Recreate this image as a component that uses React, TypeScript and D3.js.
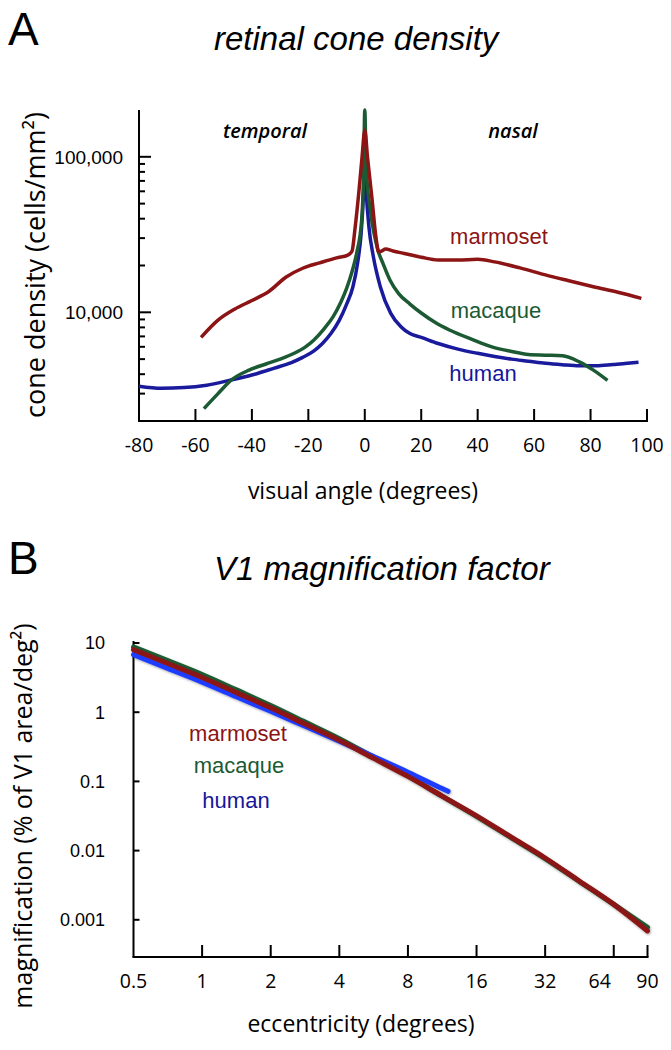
import React from "react";
import * as d3 from "d3";

// ---------- Panel A data: retinal cone density (cells/mm²) vs visual angle (deg) ----------
const marmosetA: [number, number][] = [
  [-58, 6900], [-52, 8900], [-46, 10500], [-40, 11900], [-34, 13600], [-28, 16800],
  [-22, 19200], [-16, 20800], [-10, 22400], [-6, 23300], [-4.5, 24800], [-3.5, 34000],
  [-2, 62000], [-1, 98000], [0, 148000], [1, 98000], [2.5, 55000], [4, 30000],
  [4.9, 24500], [5.8, 24700], [7.4, 25500], [10, 24800], [14, 23900], [20, 22600],
  [26, 21700], [33, 21700], [40, 21900], [46, 21100], [55, 19300], [64, 17400],
  [72, 16000], [81, 14600], [90, 13400], [98, 12300],
];
const macaqueA: [number, number][] = [
  [-57, 2400], [-52, 3000], [-47, 3700], [-41, 4250], [-35, 4650], [-30, 5000],
  [-25, 5450], [-21, 6000], [-18, 6640], [-14.5, 7800], [-11.2, 9370], [-8.5, 11600],
  [-6.4, 14300], [-4.5, 18300], [-2.9, 23900], [-1.1, 39200], [-0.4, 80000], [0, 200000],
  [0.5, 85000], [2, 45000], [4.7, 25000], [6.5, 20500], [9, 16000], [12, 13200],
  [16, 11300], [20, 9900], [25, 8600], [30, 7700], [38, 6700], [45, 6000], [52, 5600],
  [58, 5350], [64, 5300], [70, 5250], [76, 4800], [81, 4250], [86, 3650],
];
const humanA: [number, number][] = [
  [-80, 3350], [-72, 3250], [-64, 3280], [-56, 3400], [-48, 3650], [-40, 3950],
  [-32, 4380], [-26, 4750], [-22, 5130], [-18, 5650], [-15, 6300], [-12, 7300],
  [-9, 8900], [-6.5, 11200], [-4.2, 14600], [-2.5, 21000], [-1.3, 32000], [-0.5, 55000],
  [0, 95000], [0.5, 60000], [1.5, 35000], [3, 23000], [5.5, 14600], [9.2, 9850],
  [12.8, 8080], [16, 7300], [20, 6900], [26, 6300], [33, 5800], [40, 5450], [46, 5200],
  [52, 5000], [58, 4850], [64, 4700], [70, 4600], [76, 4530], [82, 4530], [88, 4620],
  [93, 4700], [97, 4780],
];
const xTicksA = [-80, -60, -40, -20, 0, 20, 40, 60, 80, 100];
const yMajorTicksA = [10000, 100000];
const yMajorLabelsA = ["10,000", "100,000"];

// ---------- Panel B data: V1 magnification (% of V1 area/deg²) vs eccentricity (deg) ----------
const marmosetB: [number, number][] = [
  [0.5, 8.0], [0.707, 5.05], [1, 3.18], [1.414, 1.92], [2, 1.156], [2.83, 0.673],
  [4, 0.392], [5.66, 0.215], [8, 0.118], [11.3, 0.0614], [16, 0.0318], [22.6, 0.0158],
  [32, 0.00782], [45.3, 0.00361], [64, 0.00167], [90, 0.00069],
];
const macaqueB: [number, number][] = [
  [0.5, 8.75], [0.707, 5.56], [1, 3.51], [1.414, 2.1], [2, 1.25], [2.83, 0.72],
  [4, 0.415], [5.66, 0.223], [8, 0.12], [11.3, 0.0611], [16, 0.0313], [22.6, 0.0155],
  [32, 0.00767], [45.3, 0.00357], [64, 0.00167], [90, 0.000776],
];
const humanB: [number, number][] = [
  [0.5, 6.8], [0.707, 4.29], [1, 2.71], [1.414, 1.67], [2, 1.03], [2.83, 0.627],
  [4, 0.382], [5.66, 0.228], [8, 0.136], [11.3, 0.0789], [12, 0.0719],
];
const xTicksB = [0.5, 1, 2, 4, 8, 16, 32, 64, 90];
const yTicksB = [10, 1, 0.1, 0.01, 0.001];
const yLabelsB = ["10", "1", "0.1", "0.01", "0.001"];

const COL_MARMOSET = "#8c1414";
const COL_MACAQUE = "#1c5a33";
const COL_HUMAN_A = "#1a1a9c";
const COL_HUMAN_B = "#1f3cff";
const COL_HUMAN_LABEL = "#16169a";

const FONT_H = "'Liberation Sans', Arial, Helvetica, sans-serif";
const FONT_C = "'Open Sans', 'Noto Sans', sans-serif";

export default function App() {
  // Scales panel A
  const xA = d3.scaleLinear().domain([-80, 100]).range([139, 647]);
  const yA = d3.scaleLog().domain([2000, 200000]).range([421, 110]);
  const lineA = d3
    .line<[number, number]>()
    .x((d) => xA(d[0]))
    .y((d) => yA(d[1]))
    .curve(d3.curveMonotoneX);
  const yMinorA = yA
    .ticks()
    .filter((t) => !yMajorTicksA.includes(t) && t > 2000 && t < 200000);

  // Scales panel B
  const xB = d3.scaleLog().base(2).domain([0.5, 90]).range([133.5, 647.5]);
  const yB = d3.scaleLog().domain([0.00029, 10]).range([957, 643]);
  const lineB = d3
    .line<[number, number]>()
    .x((d) => xB(d[0]))
    .y((d) => yB(d[1]))
    .curve(d3.curveMonotoneX);

  const axisStroke = { stroke: "#000", strokeWidth: 2, fill: "none" } as const;

  return (
    <svg
      width={671}
      height={1050}
      viewBox="0 0 671 1050"
      style={{ position: "absolute", left: 0, top: 0, background: "#fff" }}
    >
      <defs>
        <filter id="shadow" x="-10%" y="-10%" width="120%" height="120%">
          <feDropShadow dx="0.8" dy="1.2" stdDeviation="1.2" floodColor="#000" floodOpacity="0.35" />
        </filter>
      </defs>

      {/* ================= Panel A ================= */}
      <text x={8} y={45} fontFamily={FONT_H} fontSize={46}>A</text>
      <text x={214} y={50} fontFamily={FONT_H} fontSize={33} fontStyle="italic">
        retinal cone density
      </text>

      {/* axes */}
      <line x1={xA(-80)} x2={xA(-80)} y1={110} y2={421} {...axisStroke} />
      <line x1={xA(-80) - 1} x2={xA(100) + 1} y1={421} y2={421} {...axisStroke} />
      {xTicksA.slice(1).map((t) => (
        <line key={"xta" + t} x1={xA(t)} x2={xA(t)} y1={421} y2={409} {...axisStroke} />
      ))}
      {xTicksA.map((t) => (
        <text key={"xla" + t} x={xA(t)} y={452} textAnchor="middle" fontFamily={FONT_C} fontSize={19.5} fontWeight={500}>
          {t}
        </text>
      ))}
      {yMajorTicksA.map((t, i) => (
        <g key={"yta" + t}>
          <line x1={xA(-80)} x2={xA(-80) + 12} y1={yA(t)} y2={yA(t)} {...axisStroke} />
          <text x={123} y={yA(t)} dy="0.36em" textAnchor="end" fontFamily={FONT_H} fontSize={19}>
            {yMajorLabelsA[i]}
          </text>
        </g>
      ))}
      {yMinorA.map((t) => (
        <line key={"ymia" + t} x1={xA(-80)} x2={xA(-80) + 6} y1={yA(t)} y2={yA(t)} {...axisStroke} />
      ))}

      <text x={265} y={138} textAnchor="middle" fontFamily={FONT_C} fontSize={20} fontStyle="italic" fontWeight={600}>
        temporal
      </text>
      <text x={513} y={138} textAnchor="middle" fontFamily={FONT_C} fontSize={20} fontStyle="italic" fontWeight={600}>
        nasal
      </text>

      {/* curves */}
      <path d={lineA(humanA) ?? ""} fill="none" stroke={COL_HUMAN_A} strokeWidth={3.5} strokeLinejoin="round" />
      <path d={lineA(macaqueA) ?? ""} fill="none" stroke={COL_MACAQUE} strokeWidth={3.5} strokeLinejoin="round" />
      <path d={lineA(marmosetA) ?? ""} fill="none" stroke={COL_MARMOSET} strokeWidth={3.5} strokeLinejoin="round" />

      <text x={499} y={244} textAnchor="middle" fontFamily={FONT_H} fontSize={22} fill={COL_MARMOSET}>marmoset</text>
      <text x={496} y={318} textAnchor="middle" fontFamily={FONT_H} fontSize={22} fill={COL_MACAQUE}>macaque</text>
      <text x={483} y={381} textAnchor="middle" fontFamily={FONT_H} fontSize={22} fill={COL_HUMAN_LABEL}>human</text>

      <text x={363} y={499} textAnchor="middle" fontFamily={FONT_C} fontSize={23}>
        visual angle (degrees)
      </text>
      <text
        transform="translate(45,265) rotate(-90)"
        textAnchor="middle"
        fontFamily={FONT_C}
        fontSize={27}
      >
        cone density (cells/mm²)
      </text>

      {/* ================= Panel B ================= */}
      <text x={8} y={574} fontFamily={FONT_H} fontSize={46}>B</text>
      <text x={214} y={580} fontFamily={FONT_H} fontSize={33} fontStyle="italic">
        V1 magnification factor
      </text>

      <line x1={xB(0.5)} x2={xB(0.5)} y1={641} y2={957} {...axisStroke} />
      <line x1={xB(0.5) - 1} x2={xB(90) + 1} y1={957} y2={957} {...axisStroke} />
      {xTicksB.slice(1).map((t) => (
        <line key={"xtb" + t} x1={xB(t)} x2={xB(t)} y1={957} y2={945} {...axisStroke} />
      ))}
      {xTicksB.map((t) => (
        <text
          key={"xlb" + t}
          x={xB(t) + (t === 64 ? -14 : 0)}
          y={988}
          textAnchor="middle"
          fontFamily={FONT_C}
          fontSize={19.5}
          fontWeight={500}
        >
          {t}
        </text>
      ))}
      {yTicksB.map((t, i) => (
        <g key={"ytb" + t}>
          <line x1={xB(0.5)} x2={xB(0.5) + 6} y1={yB(t)} y2={yB(t)} {...axisStroke} />
          <text x={105} y={yB(t)} dy="0.36em" textAnchor="end" fontFamily={FONT_H} fontSize={18}>
            {yLabelsB[i]}
          </text>
        </g>
      ))}

      <g filter="url(#shadow)">
        <path d={lineB(macaqueB) ?? ""} fill="none" stroke={COL_MACAQUE} strokeWidth={5} strokeLinecap="round" />
        <path d={lineB(humanB) ?? ""} fill="none" stroke={COL_HUMAN_B} strokeWidth={5} strokeLinecap="round" />
        <path d={lineB(marmosetB) ?? ""} fill="none" stroke={COL_MARMOSET} strokeWidth={5} strokeLinecap="round" />
      </g>

      <text x={238} y={741} textAnchor="middle" fontFamily={FONT_H} fontSize={22} fill={COL_MARMOSET}>marmoset</text>
      <text x={239} y={773} textAnchor="middle" fontFamily={FONT_H} fontSize={22} fill={COL_MACAQUE}>macaque</text>
      <text x={236} y={808} textAnchor="middle" fontFamily={FONT_H} fontSize={22} fill={COL_HUMAN_LABEL}>human</text>

      <text x={361} y={1032} textAnchor="middle" fontFamily={FONT_C} fontSize={23}>
        eccentricity (degrees)
      </text>
      <text
        transform="translate(32,816) rotate(-90)"
        textAnchor="middle"
        fontFamily={FONT_C}
        fontSize={25}
      >
        magnification (% of V1 area/deg²)
      </text>
    </svg>
  );
}
